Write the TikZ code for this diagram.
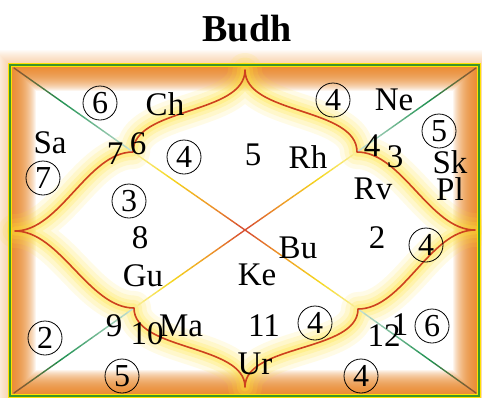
\documentclass[tikz,border=0pt]{standalone}
\usepackage{fontspec}
\setmainfont{Liberation Serif}
\usetikzlibrary{calc}
\definecolor{curvecol}{RGB}{205,65,30}
\definecolor{glowcol}{RGB}{255,228,50}
\definecolor{frameorange}{RGB}{236,130,28}
\definecolor{outerglow}{RGB}{242,165,90}
\definecolor{framegreen}{RGB}{60,150,40}
\definecolor{dbrown}{RGB}{150,80,45}
\definecolor{dgreen}{RGB}{30,145,80}
\definecolor{dpale}{RGB}{200,225,215}
\definecolor{ypale}{RGB}{250,240,160}
\definecolor{dyellow}{RGB}{245,215,30}
\definecolor{dorange}{RGB}{238,150,40}
\definecolor{dred}{RGB}{215,75,50}
\newcommand{\gradseg}[5]{%
  \foreach \i in {1,...,#5}{
    \pgfmathsetmacro{\ta}{(\i-1)/#5}
    \pgfmathsetmacro{\tb}{\i/#5}
    \pgfmathtruncatemacro{\pc}{100-100*(\i-0.5)/#5}
    \draw[diagline,#3!\pc!#4] ($(#1)!\ta!(#2)$) -- ($(#1)!\tb!(#2)$);
  }}
\begin{document}
\begin{tikzpicture}[x=1pt,y=-1pt,
  diagline/.style={line width=1.4pt,line cap=round},
  lbl/.style={font=\fontsize{33}{33}\selectfont,inner sep=0pt},
  cnum/.style={circle,draw,line width=0.8pt,minimum size=34pt,inner sep=0pt,font=\fontsize{32}{32}\selectfont},
  titlestyle/.style={font=\fontsize{38}{38}\selectfont\bfseries,inner sep=0pt}]
\useasboundingbox (0,0) rectangle (482,397);
% frame corners
\coordinate (fTL) at (10,65);
\coordinate (fBR) at (479,396);
% diamond vertices
\coordinate (vT) at (245,70);
\coordinate (vB) at (245,387);
\coordinate (vL) at (15,231);
\coordinate (vR) at (475,230);
\coordinate (O) at (245,230);
% edge mid cusps
\coordinate (mTL) at (133,152);
\coordinate (mTR) at (357,152);
\coordinate (mBL) at (134,308);
\coordinate (mBR) at (358,309);
% diagonal corners
\coordinate (cTL) at (14,68);
\coordinate (cTR) at (476,68);
\coordinate (cBL) at (14,393);
\coordinate (cBR) at (476,393);
% outer glow
\foreach \w in {2,4,...,30}
  \draw[line width=\w pt,outerglow,opacity=0.045] (fTL) rectangle (fBR);
\fill[white] (fTL) rectangle (fBR);
% inner shading
\begin{scope}
  \clip (fTL) rectangle (fBR);
  \foreach \w in {2,4,...,52}
    \draw[line width=\w pt,frameorange,opacity=0.08] (fTL) rectangle (fBR);
\end{scope}
% glow of the curves
\foreach \w/\o in {34/0.12,25/0.15,16/0.2,9/0.25}
  \draw[glowcol,line width=\w pt,opacity=\o,line join=round]
    (vL) .. controls +(45,0) and +(-45,0) .. (mTL)
         .. controls +(0,-45) and +(0,45) .. (vT)
         .. controls +(0,45) and +(0,-45) .. (mTR)
         .. controls +(45,0) and +(-45,0) .. (vR)
         .. controls +(-45,0) and +(45,0) .. (mBR)
         .. controls +(0,43) and +(0,-43) .. (vB)
         .. controls +(0,-43) and +(0,43) .. (mBL)
         .. controls +(-45,0) and +(45,0) .. (vL) -- cycle;
% diagonals
\foreach \c/\m in {cTL/mTL,cTR/mTR,cBL/mBL,cBR/mBR}{
  \coordinate (g1) at ($(\c)!0.4!(\m)$);
  \coordinate (h1) at ($(\m)!0.35!(O)$);
  \coordinate (h2) at ($(\m)!0.7!(O)$);
  \gradseg{\c}{g1}{dbrown}{dgreen}{8}
  \gradseg{g1}{\m}{dgreen}{dpale}{12}
  \gradseg{\m}{h1}{ypale}{dyellow}{8}
  \gradseg{h1}{h2}{dyellow}{dorange}{8}
  \gradseg{h2}{O}{dorange}{dred}{8}
}
% curves
\draw[curvecol,line width=1.6pt,line join=round]
    (vL) .. controls +(45,0) and +(-45,0) .. (mTL)
         .. controls +(0,-45) and +(0,45) .. (vT)
         .. controls +(0,45) and +(0,-45) .. (mTR)
         .. controls +(45,0) and +(-45,0) .. (vR)
         .. controls +(-45,0) and +(45,0) .. (mBR)
         .. controls +(0,43) and +(0,-43) .. (vB)
         .. controls +(0,-43) and +(0,43) .. (mBL)
         .. controls +(-45,0) and +(45,0) .. (vL) -- cycle;
% frame lines
\draw[line width=4.5pt,yellow!85!orange] (fTL) rectangle (fBR);
\draw[line width=1.8pt,framegreen] (fTL) rectangle (fBR);
% title
\node[titlestyle] (title) at (247,29) {Budh};
% texts
\node[cnum] (c6a) at (100,103) {6};
\node[lbl] (ch) at (165,104) {Ch};
\node[lbl] (sa) at (50,143) {Sa};
\node[cnum] (c7) at (43,178) {7};
\node[lbl] (n7) at (115,154) {7};
\node[lbl] (n6) at (138,144) {6};
\node[cnum] (c4a) at (184,157) {4};
\node[cnum] (c3) at (129,201) {3};
\node[lbl] (n5) at (253,155) {5};
\node[lbl] (rh) at (308,157) {Rh};
\node[cnum] (c4b) at (333,100) {4};
\node[lbl] (ne) at (394,100) {Ne};
\node[lbl] (n4) at (372,146) {4};
\node[lbl] (n3) at (395,157) {3};
\node[cnum] (c5a) at (439,131) {5};
\node[lbl] (sk) at (450,162) {Sk};
\node[lbl] (pl) at (450,189) {Pl};
\node[lbl] (rv) at (373,189) {Rv};
\node[lbl] (n8) at (140,238) {8};
\node[lbl] (gu) at (143,276) {Gu};
\node[lbl] (ke) at (257,275) {Ke};
\node[lbl] (bu) at (298,248) {Bu};
\node[lbl] (n2) at (377,238) {2};
\node[cnum] (c4c) at (426,245) {4};
\node[cnum] (c2) at (45,338) {2};
\node[lbl] (n9) at (114,326) {9};
\node[lbl] (n10) at (147,334) {10};
\node[lbl] (ma) at (181,326) {Ma};
\node[cnum] (c5b) at (122,376) {5};
\node[lbl] (n11) at (264,326) {11};
\node[cnum] (c4d) at (315,323) {4};
\node[lbl] (ur) at (255,364) {Ur};
\node[lbl] (n12) at (384,336) {12};
\node[lbl] (n1) at (400,325) {1};
\node[cnum] (c6b) at (432,326) {6};
\node[cnum] (c4e) at (361,376) {4};
\end{tikzpicture}
\end{document}
